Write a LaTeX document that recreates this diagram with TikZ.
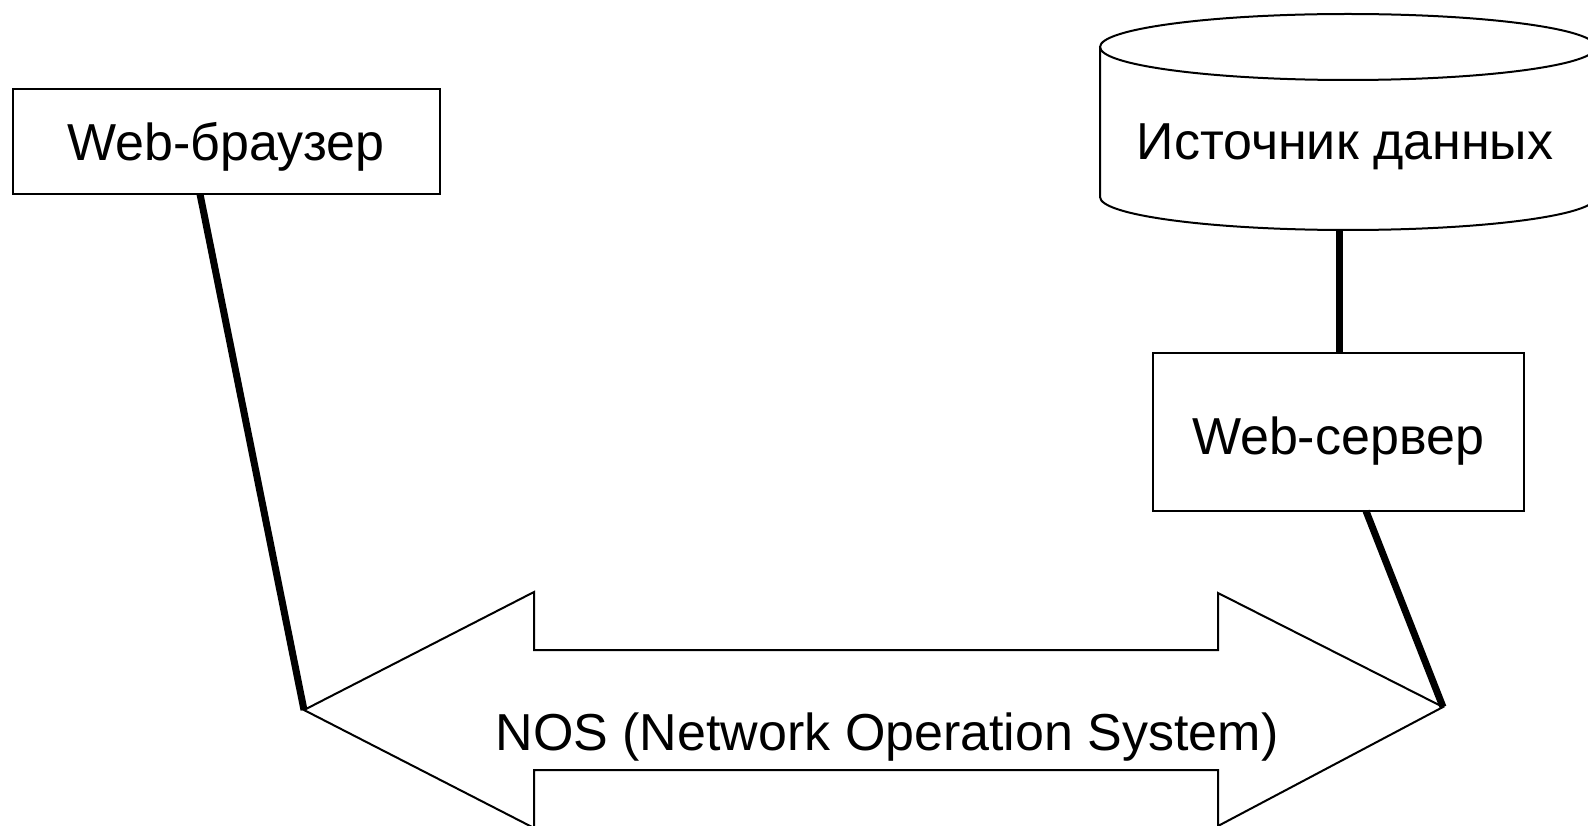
\documentclass[tikz,border=0pt]{standalone}
\usepackage{fontspec}
\setmainfont{Liberation Sans}
\begin{document}
\begin{tikzpicture}[x=1pt,y=-1pt,
  link/.style={line width=7pt},
  outline/.style={line width=2pt, line join=miter},
  lbl/.style={font=\fontsize{52}{60}\selectfont, inner sep=0pt}]
\useasboundingbox (0,0) rectangle (1588,826);
\clip (0,0) rectangle (1588,826);
% boxes
\draw[outline] (13,89) rectangle (440,194);
\node[lbl] (browser) at (226,147) {Web-браузер};
\coordinate (browserbot) at (200,194);
\draw[outline] (1153,353) rectangle (1524,511);
\node[lbl] (server) at (1338,441) {Web-сервер};
\coordinate (servertop) at (1339,353);
\coordinate (serverbot) at (1366,511);
% cylinder
\draw[outline] (1348,47) ellipse [x radius=248pt, y radius=33pt];
\draw[outline] (1100,47) -- (1100,197) arc[start angle=180, end angle=360, x radius=248pt, y radius=33pt] -- (1596,47);
\node[lbl] (db) at (1345,147) {Источник данных};
\coordinate (dbbot) at (1339,230);
% double arrow
\coordinate (ltip) at (304,710);
\coordinate (rtip) at (1443,707);
\draw[outline] (ltip) -- (534,592) -- (534,650) -- (1218,650) -- (1218,593) -- (rtip)
  -- (1218,826) -- (1218,770) -- (534,770) -- (534,828) -- cycle;
\node[lbl, anchor=base] (nos) at (887,750) {NOS (Network Operation System)};
% connectors
\draw[link] (browserbot) -- (ltip);
\draw[link] (dbbot) -- (servertop);
\draw[link] (serverbot) -- (rtip);
\end{tikzpicture}
\end{document}
